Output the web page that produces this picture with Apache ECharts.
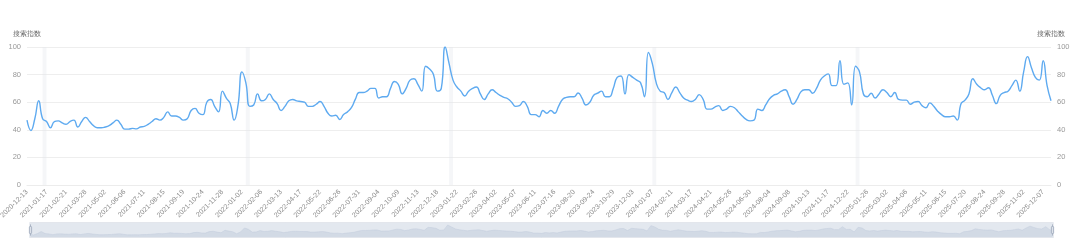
<!DOCTYPE html>
<html><head><meta charset="utf-8">
<script src="https://cdn.jsdelivr.net/npm/echarts@6/dist/echarts.min.js"></script>
<style>html,body{margin:0;padding:0;background:#fff}#c{width:1080px;height:243px}</style>
</head><body><div id="c"></div>
<script>
const startDate = '2020-12-13';
const weekCount = 263;
const seriesName = '搜索指数';
const yTicks = [0, 20, 40, 60, 80, 100];
const values = [
47,39.5,48,61,48,46,41.5,46,46.5,45,
44,46,47,42,46,49,46,43,41.5,41.5,
42,43,45,47,44,40.5,40.5,41,40.7,42,
42.5,44,46,48,47,49,53,50,50,49,
47,48,54,55.5,52,51,60,62,57,53,
68,63,59,47,58,82,74,57,58,66,
61,62,66,62,59,54,57,61,62,61,
60.5,60,57,57,58.5,60.5,57,52,50,50.5,
47.5,51,53,56,62,67,67,68,70,70,
63,64,64,70,75,73,66,70,76,77,
73,68,86,84,80,68,70,100,88,76,
71,68,64.5,68,70,71,66,62,66,69,
67,65,63.5,62.5,60,57,57.5,60.5,57,51,
51,49.5,54,52,54,52,57,62,63.5,64,
64,66.7,63,58,60,65,66.5,68,64,64,
70,78,79,66,80,78,76,74,64,96,
88,74,68,67,62,67,71,67,63,61.5,
60.5,62,65.5,62,55,55,56.5,57.5,54,55,
57,56,53,50,47.5,46.5,47,55,54,58,
62.5,65,66,68,69,64,58.5,62,67.5,69,
69,66.5,70,76,79,80.5,72,72,90,73,
74,58,86,82,66,64,66.5,63,66,69,
67,64,67,62,61.5,61.5,58.5,60,60.5,57.5,
56,59.5,57,53.5,51,49.5,49.5,50,47,59,
61.5,66,77,73,70.5,69,70.5,65,59,65,
67,68,72,76,68,82,93,85,78,76,
90,72,61
];
const bandStarts = [4, 56, 108, 160, 212];

function fmt(d){const m=d.getUTCMonth()+1, dd=d.getUTCDate();return d.getUTCFullYear()+'-'+(m<10?'0':'')+m+'-'+(dd<10?'0':'')+dd;}
const categories = [];
const t0 = Date.parse(startDate + 'T00:00:00Z');
for (let i = 0; i < weekCount; i++) categories.push(fmt(new Date(t0 + i * 7 * 86400000)));

const chart = echarts.init(document.getElementById('c'), null, {renderer: 'canvas'});
const yAxisCommon = {
  type: 'value', min: yTicks[0], max: yTicks[yTicks.length-1], interval: 20,
  name: seriesName,
  nameTextStyle: {color: '#666', fontSize: 7},
  nameGap: 9,
  axisLine: {show: false}, axisTick: {show: false},
  splitLine: {lineStyle: {color: '#eeeeee'}}
};
chart.setOption({
  animation: false,
  grid: {left: 27, right: 29, top: 47, bottom: 58, containLabel: false, outerBoundsMode: 'none'},
  xAxis: {
    type: 'category', data: categories, boundaryGap: false,
    axisLine: {lineStyle: {color: '#ececec'}},
    axisTick: {show: false},
    axisLabel: {color: '#8a8a8a', fontSize: 7, rotate: 45, interval: 4, margin: 6}
  },
  yAxis: [
    Object.assign({}, yAxisCommon, {position: 'left', axisLabel: {color: '#999', fontSize: 7.5, margin: 6}}),
    Object.assign({}, yAxisCommon, {position: 'right', axisLabel: {color: '#999', fontSize: 7.5, margin: 6}})
  ],
  dataZoom: [{
    type: 'slider', start: 0, end: 100, left: 27, right: 29, bottom: 5, height: 16,
    borderColor: '#e3e6ec', backgroundColor: 'rgba(47,69,84,0)',
    fillerColor: 'rgba(175,188,210,0.35)',
    showDetail: false,
    dataBackground: {lineStyle: {color: '#d5dbe6', width: 0.5}, areaStyle: {color: '#d5dbe6', opacity: 0.5}},
    selectedDataBackground: {lineStyle: {color: '#ccd4e2', width: 0.5}, areaStyle: {color: '#ccd4e2', opacity: 0.5}},
    handleSize: '70%', handleStyle: {color: '#dde2ea', borderColor: '#aab4c4'},
    moveHandleSize: 0
  }],
  series: [{
    name: seriesName, type: 'line', data: values, smooth: true, showSymbol: false,
    yAxisIndex: 0,
    lineStyle: {color: '#5eaaf0', width: 1.4},
    itemStyle: {color: '#5eaaf0'},
    markArea: {
      silent: true,
      itemStyle: {color: 'rgba(225,228,234,0.35)'},
      data: bandStarts.map(s => [{xAxis: categories[s]}, {xAxis: categories[s+1]}])
    }
  }]
});
</script></body></html>
